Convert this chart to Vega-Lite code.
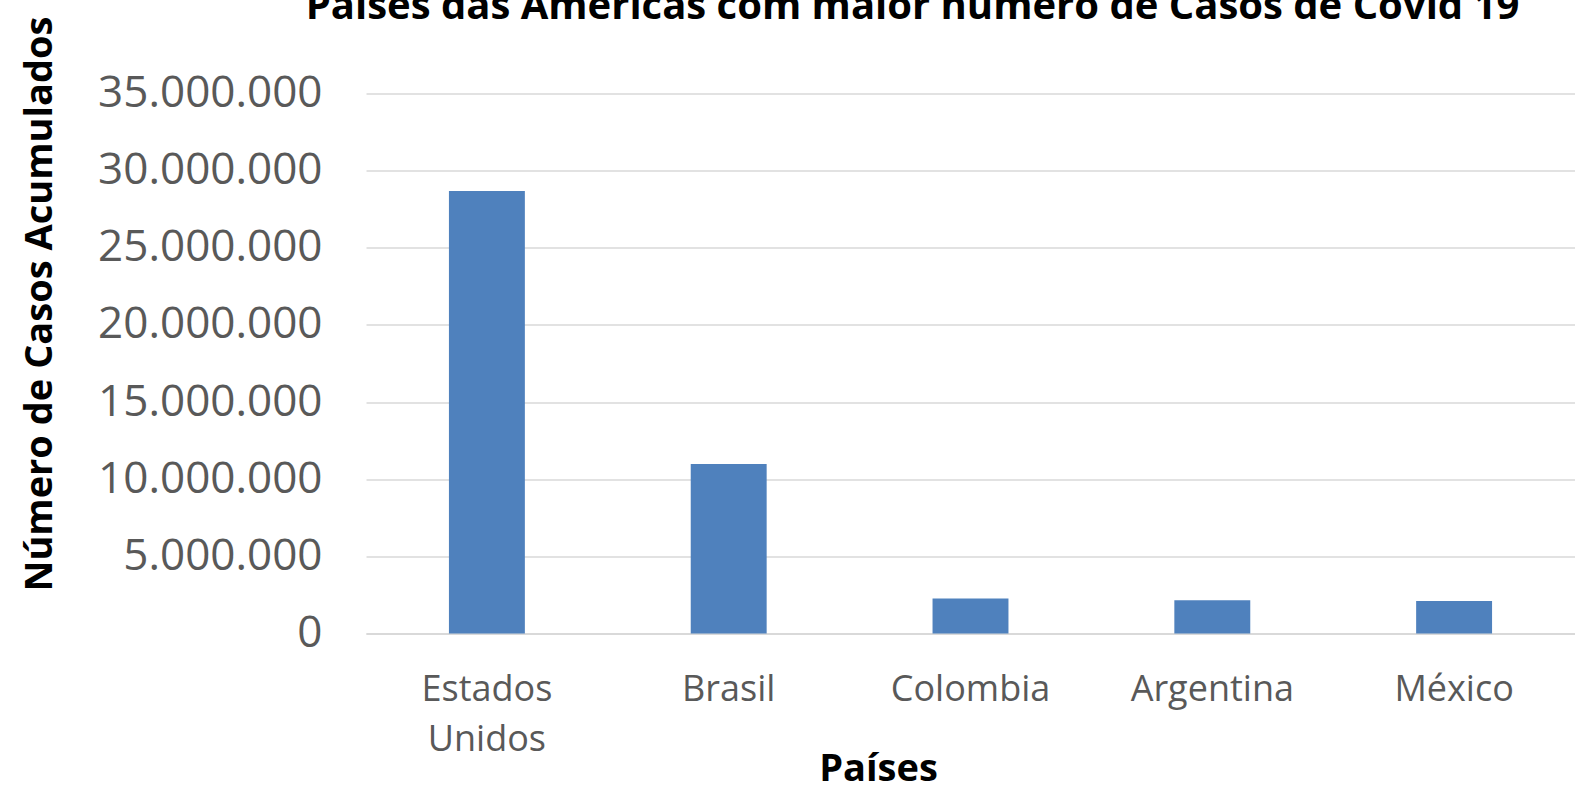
{
  "$schema": "https://vega.github.io/schema/vega-lite/v6.json",
  "autosize": "none",
  "width": 1209,
  "height": 540,
  "padding": {"left": 366, "top": 93.5, "right": 0, "bottom": 152.5},
  "background": "white",
  "data": {
    "values": [
      {"pais": "Estados Unidos", "casos": 28680000},
      {"pais": "Brasil", "casos": 10990000},
      {"pais": "Colombia", "casos": 2270000},
      {"pais": "Argentina", "casos": 2160000},
      {"pais": "México", "casos": 2110000}
    ]
  },
  "title": {
    "text": "Países das Américas com maior número de Casos de Covid 19",
    "font": "Open Sans",
    "fontSize": 40,
    "fontWeight": "bold",
    "color": "#000000",
    "anchor": "middle",
    "frame": "group",
    "dx": -58,
    "dy": 36,
    "baseline": "alphabetic",
    "offset": -7
  },
  "mark": {"type": "bar", "color": "#4F81BD"},
  "encoding": {
    "x": {
      "field": "pais",
      "type": "nominal",
      "sort": null,
      "scale": {"paddingInner": 0.686, "paddingOuter": 0.343},
      "axis": {
        "title": "Países",
        "titleFont": "Open Sans",
        "titleFontSize": 38,
        "titleFontWeight": "bold",
        "titleColor": "#000000",
        "titleX": 512,
        "titleY": 147,
        "titleAlign": "center",
        "titleBaseline": "alphabetic",
        "labelFont": "Open Sans",
        "labelFontSize": 36,
        "labelColor": "#595959",
        "labelAngle": 0,
        "labelBaseline": "top",
        "labelPadding": 39,
        "labelLineHeight": 50,
        "labelLimit": 0,
        "labelExpr": "datum.value == 'Estados Unidos' ? ['Estados', 'Unidos'] : datum.value",
        "ticks": false,
        "tickSize": 0,
        "domain": true,
        "domainColor": "#D9D9D9",
        "domainWidth": 2,
        "grid": false
      }
    },
    "y": {
      "field": "casos",
      "type": "quantitative",
      "scale": {"domain": [0, 35000000], "nice": false},
      "axis": {
        "title": "Número de Casos Acumulados",
        "titleFont": "Open Sans",
        "titleFontSize": 38,
        "titleFontWeight": "bold",
        "titleColor": "#000000",
        "titleAngle": 270,
        "titleX": -326,
        "titleY": 210,
        "titleAlign": "center",
        "titleBaseline": "middle",
        "titleLimit": 0,
        "values": [0, 5000000, 10000000, 15000000, 20000000, 25000000, 30000000, 35000000],
        "format": ",.0f",
        "labelFont": "Open Sans",
        "labelFontSize": 44,
        "labelColor": "#595959",
        "labelPadding": 44,
        "labelLimit": 0,
        "ticks": false,
        "tickSize": 0,
        "domain": false,
        "grid": true,
        "gridColor": "#D9D9D9",
        "gridWidth": 1.5
      }
    }
  },
  "config": {
    "view": {"stroke": null},
    "locale": {
      "number": {"decimal": ",", "thousands": ".", "grouping": [3], "currency": ["R$", ""]}
    }
  }
}
